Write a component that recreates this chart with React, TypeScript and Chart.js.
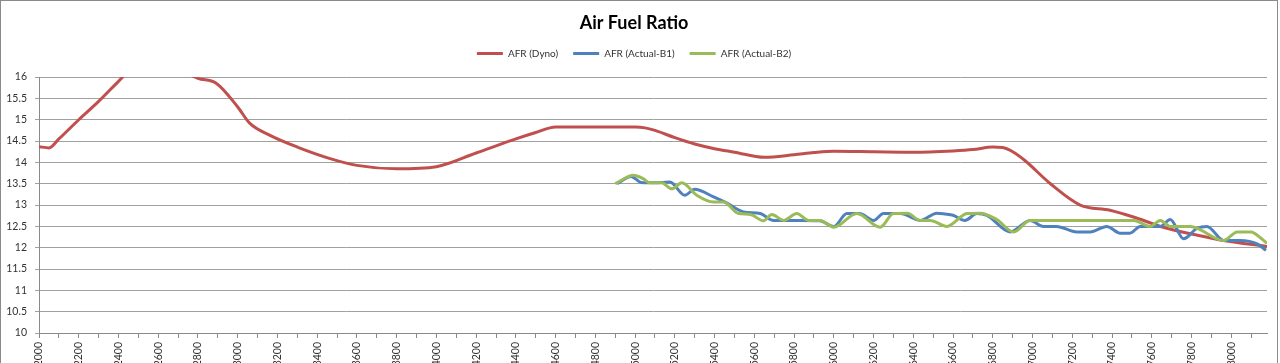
import React, { useEffect, useRef } from 'react';
import { Chart, registerables } from 'chart.js';

Chart.register(...registerables);

// ---- Data ----
const dynoRpm = [2000, 2050, 2100, 2200, 2300, 2400, 2500, 2600, 2700, 2800, 2890, 3000, 3060, 3160, 3300, 3465, 3600, 3800, 4000, 4200, 4400, 4500, 4600, 4800, 5000, 5050, 5100, 5200, 5300, 5400, 5500, 5650, 5800, 5900, 6000, 6200, 6400, 6600, 6700, 6800, 6850, 6900, 6960, 7090, 7240, 7390, 7527, 7658, 7830, 7960, 8180];
const dynoAfr = [14.37, 14.34, 14.55, 15.0, 15.43, 15.9, 16.35, 16.45, 16.2, 15.97, 15.86, 15.3, 14.92, 14.64, 14.36, 14.09, 13.93, 13.85, 13.9, 14.22, 14.55, 14.7, 14.83, 14.83, 14.83, 14.81, 14.75, 14.58, 14.43, 14.32, 14.24, 14.12, 14.18, 14.23, 14.26, 14.25, 14.24, 14.27, 14.3, 14.36, 14.35, 14.25, 14.05, 13.5, 13.0, 12.88, 12.69, 12.48, 12.29, 12.17, 12.03];

const b1Rpm = [4910, 4980, 5030, 5100, 5175, 5250, 5300, 5395, 5460, 5545, 5630, 5697, 5830, 5930, 6000, 6066, 6130, 6200, 6250, 6335, 6435, 6519, 6560, 6600, 6660, 6720, 6770, 6888, 6988, 7055, 7120, 7223, 7290, 7374, 7441, 7490, 7542, 7643, 7693, 7760, 7827, 7878, 7962, 8046, 8130, 8175];
const b1Afr = [13.5, 13.67, 13.53, 13.52, 13.54, 13.23, 13.37, 13.19, 13.05, 12.84, 12.8, 12.64, 12.64, 12.63, 12.5, 12.8, 12.8, 12.64, 12.8, 12.8, 12.64, 12.81, 12.79, 12.76, 12.64, 12.8, 12.76, 12.37, 12.64, 12.5, 12.5, 12.37, 12.37, 12.5, 12.34, 12.34, 12.5, 12.5, 12.66, 12.21, 12.45, 12.5, 12.17, 12.17, 12.09, 11.94];

const b2Rpm = [4900, 4992, 5040, 5075, 5134, 5185, 5235, 5310, 5395, 5445, 5520, 5580, 5646, 5688, 5747, 5814, 5872, 5930, 6000, 6116, 6233, 6300, 6370, 6435, 6485, 6569, 6670, 6737, 6820, 6905, 6988, 7050, 7509, 7592, 7643, 7693, 7794, 7962, 8030, 8100, 8150, 8180];
const b2Afr = [13.5, 13.7, 13.62, 13.52, 13.52, 13.38, 13.52, 13.23, 13.07, 13.07, 12.8, 12.78, 12.63, 12.78, 12.64, 12.8, 12.64, 12.64, 12.48, 12.8, 12.48, 12.8, 12.81, 12.64, 12.64, 12.5, 12.8, 12.81, 12.66, 12.37, 12.64, 12.64, 12.64, 12.5, 12.64, 12.5, 12.5, 12.17, 12.37, 12.37, 12.22, 12.1];

const seriesNames = ['AFR (Dyno)', 'AFR (Actual-B1)', 'AFR (Actual-B2)'];
const seriesColors = ['#C0504D', '#4F81BD', '#9BBB59'];

const xLabelValues = [2000, 2200, 2400, 2600, 2800, 3000, 3200, 3400, 3600, 3800, 4000, 4200, 4400, 4600, 4800, 5000, 5200, 5400, 5600, 5800, 6000, 6200, 6400, 6600, 6800, 7000, 7200, 7400, 7600, 7800, 8000];
const yTickValues = [10, 10.5, 11, 11.5, 12, 12.5, 13, 13.5, 14, 14.5, 15, 15.5, 16];

const FONT = 'Lato, "Noto Sans", sans-serif';

function toPoints(xs: number[], ys: number[]) {
  return xs.map((x, i) => ({ x, y: ys[i] }));
}

export default function App() {
  const ref = useRef<HTMLCanvasElement | null>(null);

  useEffect(() => {
    if (!ref.current) return;
    const mk = (i: number, xs: number[], ys: number[]) => ({
      label: seriesNames[i],
      data: toPoints(xs, ys),
      borderColor: seriesColors[i],
      backgroundColor: seriesColors[i],
      borderWidth: 3,
      pointRadius: 0,
      pointHoverRadius: 0,
      cubicInterpolationMode: 'monotone' as const,
      fill: false,
      order: 3 - i,
    });
    const chart = new Chart(ref.current, {
      type: 'line',
      data: {
        datasets: [mk(0, dynoRpm, dynoAfr), mk(1, b1Rpm, b1Afr), mk(2, b2Rpm, b2Afr)],
      },
      options: {
        animation: false,
        responsive: false,
        maintainAspectRatio: false,
        layout: { padding: { top: 0, left: 0, right: 10, bottom: 0 } },
        plugins: {
          tooltip: { enabled: false },
          title: {
            display: true,
            text: 'Air Fuel Ratio',
            color: '#000',
            font: { family: FONT, size: 18, weight: 'bold', lineHeight: 1.2 },
            padding: { top: 11, bottom: 0 },
          },
          subtitle: {
            display: true,
            text: '',
            weight: 500,
            font: { size: 1, lineHeight: 1 },
            padding: { top: 7.5, bottom: 0 },
          } as any,
          legend: {
            display: true,
            position: 'top',
            labels: {
              color: '#333',
              font: { family: FONT, size: 10 },
              usePointStyle: true,
              pointStyle: 'line',
              pointStyleWidth: 26,
              boxWidth: 26,
              padding: 15,
              sort: (a: any, b: any) => a.datasetIndex - b.datasetIndex,
            },
          },
        },
        scales: {
          x: {
            type: 'linear',
            min: 2000,
            max: 8180,
            afterFit: (s: any) => { s.height = 38; },
            grid: { display: true, drawOnChartArea: false, drawTicks: true, tickLength: 5, color: '#8a8a8a' },
            border: { display: true, color: '#8a8a8a', width: 1 },
            ticks: {
              stepSize: 100,
              includeBounds: false,
              autoSkip: false,
              maxRotation: 90,
              minRotation: 90,
              padding: 4,
              color: '#333',
              font: { family: FONT, size: 10.5 },
              callback: (v: any) => (xLabelValues.includes(Number(v)) ? String(v) : ''),
            },
          },
          y: {
            type: 'linear',
            min: 10,
            max: 16,
            afterFit: (s: any) => { s.width = 38; },
            afterBuildTicks: (s: any) => { s.ticks = yTickValues.map((v) => ({ value: v })); },
            grid: { color: '#a0a0a0', lineWidth: 1, drawTicks: true, tickLength: 4 },
            border: { display: true, color: '#8a8a8a', width: 1 },
            ticks: {
              padding: 8,
              color: '#333',
              font: { family: FONT, size: 10.5 },
              callback: (v: any) => String(v),
            },
          },
        },
      },
    });
    return () => chart.destroy();
  }, []);

  return (
    <div style={{ position: 'fixed', left: 0, top: 0, width: 1280, height: 363, overflow: 'hidden', background: '#fff' }}>
      <div style={{ position: 'absolute', left: 0, top: 0, width: 1278, height: 372, border: '1px solid #8a8a8a', boxSizing: 'border-box' }}>
        <canvas ref={ref} width={1276} height={370} style={{ display: 'block', width: 1276, height: 370 }} />
      </div>
    </div>
  );
}
